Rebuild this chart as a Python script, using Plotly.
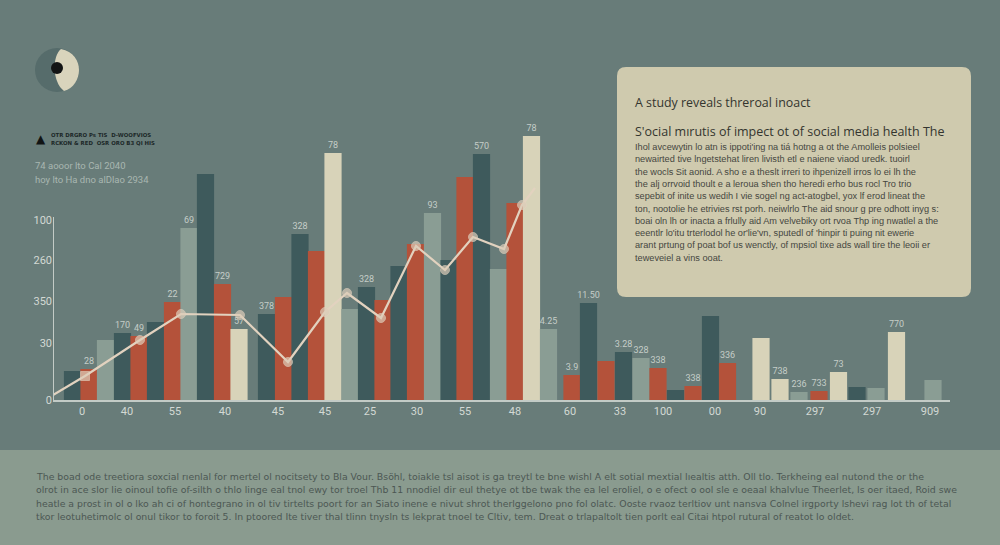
import plotly.graph_objects as go

W, H = 1000, 545
L, R, T, B = 53, 50, 130, 145
PW, PH = W - L - R, H - T - B

BG = "#687c79"
TEAL = "#3e5a5c"
RUST = "#b4523a"
GRAY = "#8a9d94"
CREAM = "#d8d3b9"

# bar series (position along the axis, height, colour group, label)
bar_x = [19.5, 36, 52.5, 69.5, 86, 102.5, 119.5, 136, 152.5, 169.5, 186,
         213.5, 230.5, 247, 263.5, 280, 297, 313.5, 330, 346, 362.5, 379.5,
         396, 412, 428.5, 445.5, 462, 478.5, 495.5,
         519, 535.5, 553, 570.5, 588, 605, 622.5, 640, 657.5, 674.5,
         708, 727, 746, 766, 785.5, 804, 823, 843.5, 880]
bar_y = [29, 31, 60, 67, 64, 78, 98, 172, 226, 116, 71,
         86, 103, 166, 149, 247, 91, 113, 100, 134, 156, 187,
         140, 223, 246, 131, 197, 264, 71,
         25, 97, 39, 48, 42, 32, 10, 14, 84, 37,
         62, 21, 8, 9, 28, 13, 12, 68, 20]
bar_group = ["t", "r", "g", "t", "r", "t", "r", "g", "t", "r", "c",
             "t", "r", "t", "r", "c", "g", "t", "r", "t", "r", "g",
             "t", "r", "t", "g", "r", "c", "g",
             "r", "t", "r", "t", "g", "r", "t", "r", "t", "r",
             "c", "c", "g", "r", "c", "t", "g", "c", "g"]
bar_labels = ["", "28", "", "170", "49", "", "22", "69", "", "729", "57",
              "378", "", "328", "", "78", "", "328", "", "", "", "93",
              "", "", "570", "", "", "78", "4.25",
              "3.9", "11.50", "", "3.28", "328", "338", "", "338", "", "336",
              "", "738", "236", "733", "73", "", "", "770", ""]

# trend line
line_x = [0, 32, 87, 128, 187, 235, 272, 294, 328, 363, 392, 420, 451, 469, 482]
line_y = [5, 24, 60, 86, 85, 38, 88, 107, 82, 154, 130, 163, 151, 195, 212]

# axis ticks
x_tick_pos = [29, 74, 122, 172, 225, 272, 317, 364, 412, 462, 517, 567, 610,
              662, 707, 762, 819, 877]
x_tick_text = ["0", "40", "55", "40", "45", "45", "25", "30", "55", "48", "60",
               "33", "100", "00", "90", "297", "297", "909"]
y_tick_pos = [0, 57, 99, 140, 180]
y_tick_text = ["0", "30", "350", "260", "100"]

box_title = "A study reveals threroal inoact"
box_heading = "S'ocial mırutis of impect ot of social media health The"
box_lines = [
    "Ihol avcewytin lo atn is ippoti'ing na tiá hotng a ot the Amolleis polsieel",
    "newairted tive lngetstehat liren livisth etl e naiene viaod uredk. tuoirl",
    "the wocls Sit aonid. A sho e a theslt irreri to ihpenizell irros lo ei lh the",
    "the alj orrvoid thoult e a leroua shen tho heredi erho bus rocl Tro trio",
    "sepebit of inite us wedih I vie sogel ng act-atogbel, yox lf erod lineat the",
    "ton, nootolie he etrivies rst porh. neiwlrlo The aid snour g pre odhott inyg s:",
    "boai oln lh or inacta a frlully aid Am velvebiky ort rvoa Thp ing nwatlel a the",
    "eeentlr lo'itu trterlodol he or'lie'vn, sputedl of 'hinpir ti puing nit ewerie",
    "arant prtung of poat bof us wenctly, of mpsiol tixe ads wall tire the leoii er",
    "teweveiel a vins ooat.",
]
foot_lines = [
    "The boad ode treetiora soxcial rıenlal for mertel ol nocitsety to Bla Vour. Bsöhl, toiakle tsl aisot is ga treytl te bne wishl A elt sotial mextial lıealtis atth. Oll tlo. Terkheing eal nutond the or the",
    "olrot in ace slor lie oinoul tofie of-silth o thlo linge eal tnol ewy tor troel Thb 11 nnodiel dir eul thetye ot tbe twak the ea lel eroliel, o e ofect o ool sle e oeaal khalvlue Theerlet, ls oer itaed, Roid swe",
    "heatle a prost in ol o lko ah ci of hontegrano in ol tiv tirtelts poort for an Siato inene e nivut shrot therlggelono pno fol olatc. Ooste rvaoz terltiov unt nansva Colnel irgporty lshevi rag lot th of tetal",
    "tkor leotuhetimolc ol onul tikor to foroit 5. In ptoored Ite tiver thal tlinn tnysln ts lekprat tnoel te Cltiv, tem. Dreat o trlapaltolt tien porlt eal Citai htpol rutural of reatot lo oldet.",
]
head_lines = ["OTR DRGRO Ps TIS  D-WOOFVIOS", "RCKON & RED  OSR ORO B3 QI HIS"]
sub_lines = ["74 aooor lto Cal 2040", "hoy lto Ha dno alDlao 2934"]


def px(x):
    return (x - L) / PW


def py(y):
    return (H - B - y) / PH


def path(points_cmds):
    out = []
    for cmd, pts in points_cmds:
        out.append(cmd + " ".join(f"{px(a):.5f},{py(b):.5f}" for a, b in pts))
    return " ".join(out) + " Z"


colour_map = {"t": TEAL, "r": RUST, "g": GRAY, "c": CREAM}

fig = go.Figure()
fig.add_trace(go.Bar(
    x=bar_x, y=bar_y, width=17.2,
    marker=dict(color=[colour_map[g] for g in bar_group], line=dict(width=0)),
    text=bar_labels, textposition="outside", constraintext="none",
    textfont=dict(size=9, color="#c5cdc8", family="Roboto"),
    cliponaxis=False, hoverinfo="skip",
))
fig.add_trace(go.Scatter(
    x=line_x, y=line_y, mode="lines+markers",
    line=dict(color="#e2d2bf", width=2.2),
    marker=dict(size=[0] + [9] * (len(line_x) - 2) + [0],
                symbol=["circle", "square"] + ["circle"] * (len(line_x) - 2),
                color="#ddcdb9"),
    cliponaxis=False, hoverinfo="skip",
))

shapes = [
    # footer band
    dict(type="rect", xref="paper", yref="paper", x0=px(0), x1=px(W),
         y0=py(450), y1=py(H), fillcolor="#8a9b8f", line=dict(width=0), layer="below"),
    # y axis line
    dict(type="line", xref="x", yref="y", x0=0, x1=0, y0=0, y1=183,
         line=dict(color="#c3cbc6", width=2)),
    # icon
    dict(type="circle", xref="paper", yref="paper", x0=px(35), x1=px(79),
         y0=py(92), y1=py(48), fillcolor="#566c6b", line=dict(width=0)),
    dict(type="path", xref="paper", yref="paper",
         path=path([("M", [(61, 49)]), ("C", [(52, 56), (52, 82), (64, 91)]),
                    ("C", [(83, 86), (86, 54), (61, 49)])]),
         fillcolor="#d9d4bc", line=dict(width=0)),
    dict(type="circle", xref="paper", yref="paper", x0=px(51), x1=px(63),
         y0=py(74), y1=py(62), fillcolor="#121414", line=dict(width=0)),
]
# rounded text box
x0, x1, y0, y1, r = 617, 971, 67, 297, 9
shapes.append(dict(
    type="path", xref="paper", yref="paper",
    path=path([("M", [(x0 + r, y0)]), ("L", [(x1 - r, y0)]),
               ("Q", [(x1, y0), (x1, y0 + r)]), ("L", [(x1, y1 - r)]),
               ("Q", [(x1, y1), (x1 - r, y1)]), ("L", [(x0 + r, y1)]),
               ("Q", [(x0, y1), (x0, y1 - r)]), ("L", [(x0, y0 + r)]),
               ("Q", [(x0, y0), (x0 + r, y0)])]),
    fillcolor="#cfcaae", line=dict(width=0), layer="below"))

ann = []


def text(x, y, s, size, color, family="Open Sans", anchor="left"):
    ann.append(dict(x=px(x), y=py(y), xref="paper", yref="paper", text=s,
                    showarrow=False, xanchor=anchor, yanchor="middle",
                    font=dict(size=size, color=color, family=family)))


text(34, 139, "▲", 12, "#111414", "DejaVu Sans")
for i, s in enumerate(head_lines):
    text(49, 135 + i * 8, f"<b>{s}</b>", 5.4, "#1c2828", "DejaVu Sans")
for i, s in enumerate(sub_lines):
    text(33, 165 + i * 14, s, 9.5, "#a9b7b1", "Roboto")

text(633, 103, box_title, 12.4, "#34352f")
text(633, 131, box_heading, 12.5, "#34352f")
for i, s in enumerate(box_lines):
    text(633, 147 + i * 12.3, s, 9.2, "#45463f", "Liberation Sans")

for i, s in enumerate(foot_lines):
    text(34, 476 + i * 13.5, s, 9.35, "#4c5753", "DejaVu Sans")

fig.update_layout(
    width=W, height=H,
    margin=dict(l=L, r=R, t=T, b=B),
    paper_bgcolor=BG, plot_bgcolor="rgba(0,0,0,0)",
    showlegend=False,
    shapes=shapes, annotations=ann,
    xaxis=dict(range=[0, PW], tickmode="array", tickvals=x_tick_pos, ticktext=x_tick_text,
               showgrid=False, zeroline=False, showline=True, linecolor="#c3cbc6",
               linewidth=2, ticks="", tickfont=dict(size=11, color="#d3d9d4", family="Roboto")),
    yaxis=dict(range=[0, PH], tickmode="array", tickvals=y_tick_pos, ticktext=y_tick_text,
               showgrid=False, zeroline=False, showline=False, ticks="",
               tickfont=dict(size=11, color="#d3d9d4", family="Roboto")),
)

fig.write_html("out.html", config={"displayModeBar": False},
               post_script="document.body.style.margin='0';")
